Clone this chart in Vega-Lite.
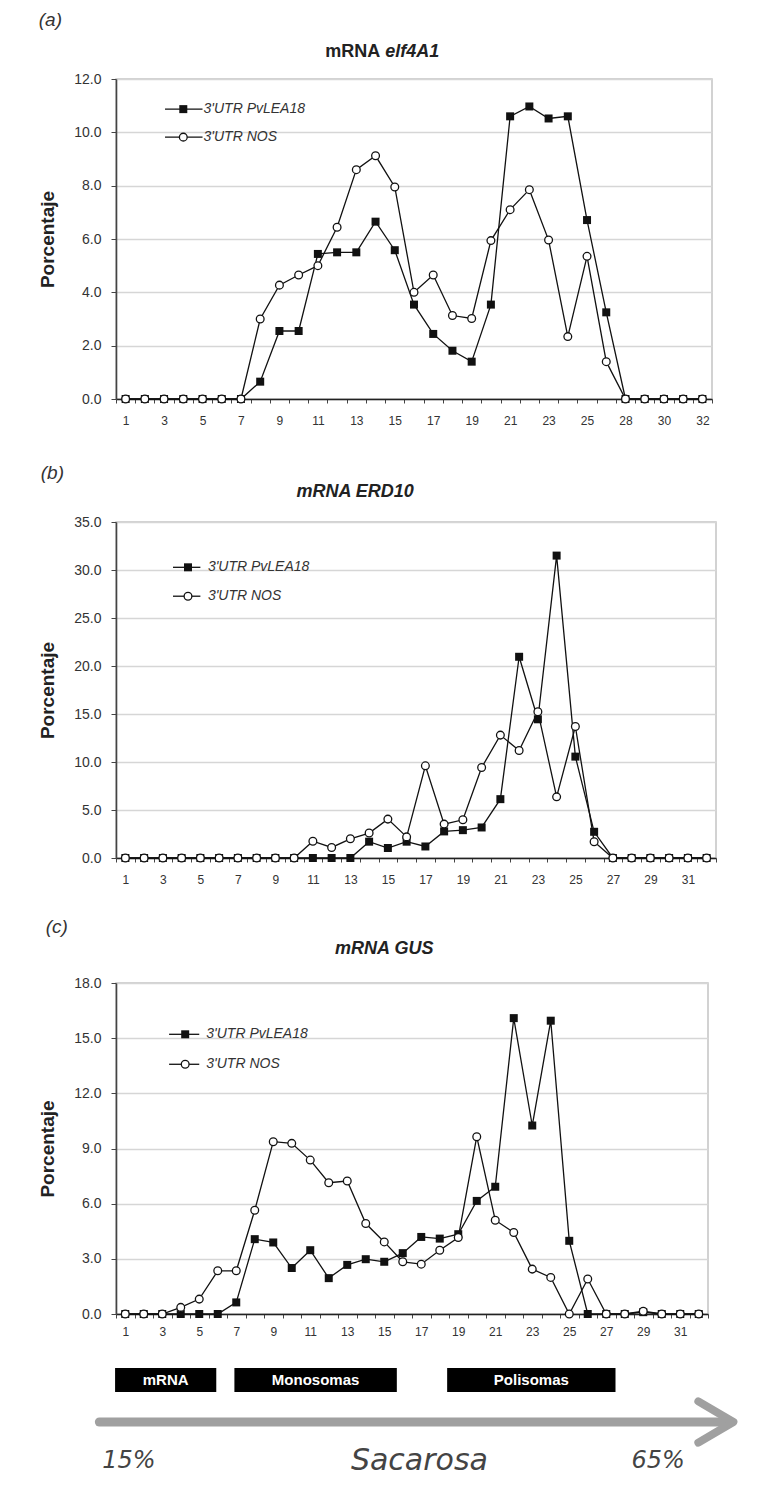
{
  "$schema": "https://vega.github.io/schema/vega-lite/v6.json",
  "background": "white",
  "padding": {"left": 38, "top": 10, "right": 5, "bottom": 5},
  "config": {
    "font": "Liberation Sans",
    "view": {"stroke": "#c4c4c4", "strokeWidth": 1.5},
    "axis": {"labelFont": "Liberation Sans", "labelColor": "#333", "domainColor": "#444", "tickColor": "#444", "domainWidth": 1.6, "gridColor": "#d6d6d6", "gridWidth": 1.6, "titleFont": "Liberation Sans"},
    "axisX": {"grid": false, "title": null, "labelAngle": 0, "tickBand": "extent", "tickSize": 4, "labelFontSize": 12, "labelOverlap": false, "domainColor": "#222"},
    "axisY": {"grid": true, "format": ".1f", "tickSize": 5, "labelPadding": 10, "labelFontSize": 14, "titleFontSize": 19, "titleFontWeight": "bold", "titleColor": "#222", "titlePadding": 16},
    "title": {"font": "Liberation Sans", "fontSize": 19, "fontStyle": "italic", "fontWeight": "normal", "anchor": "start", "frame": "bounds", "color": "#333"}
  },
  "datasets": {
    "a": [
      {"f": 1, "lea": 0, "nos": 0}, {"f": 2, "lea": 0, "nos": 0}, {"f": 3, "lea": 0, "nos": 0}, {"f": 4, "lea": 0, "nos": 0},
      {"f": 5, "lea": 0, "nos": 0}, {"f": 6, "lea": 0, "nos": 0}, {"f": 7, "lea": 0, "nos": 0},
      {"f": 8, "lea": 0.65, "nos": 3.0}, {"f": 9, "lea": 2.55, "nos": 4.27}, {"f": 10, "lea": 2.55, "nos": 4.65},
      {"f": 11, "lea": 5.44, "nos": 5.0}, {"f": 12, "lea": 5.5, "nos": 6.44}, {"f": 13, "lea": 5.5, "nos": 8.6},
      {"f": 14, "lea": 6.65, "nos": 9.12}, {"f": 15, "lea": 5.58, "nos": 7.95}, {"f": 16, "lea": 3.54, "nos": 4.0},
      {"f": 17, "lea": 2.44, "nos": 4.65}, {"f": 18, "lea": 1.81, "nos": 3.13}, {"f": 19, "lea": 1.4, "nos": 3.02},
      {"f": 20, "lea": 3.54, "nos": 5.94}, {"f": 21, "lea": 10.6, "nos": 7.1}, {"f": 22, "lea": 10.97, "nos": 7.85},
      {"f": 23, "lea": 10.52, "nos": 5.96}, {"f": 24, "lea": 10.6, "nos": 2.34}, {"f": 25, "lea": 6.71, "nos": 5.35},
      {"f": 26, "lea": 3.25, "nos": 1.4}, {"f": 28, "lea": 0, "nos": 0}, {"f": 29, "lea": 0, "nos": 0},
      {"f": 30, "lea": 0, "nos": 0}, {"f": 31, "lea": 0, "nos": 0}, {"f": 32, "lea": 0, "nos": 0}
    ],
    "b": [
      {"f": 1, "lea": 0, "nos": 0}, {"f": 2, "lea": 0, "nos": 0}, {"f": 3, "lea": 0, "nos": 0}, {"f": 4, "lea": 0, "nos": 0},
      {"f": 5, "lea": 0, "nos": 0}, {"f": 6, "lea": 0, "nos": 0}, {"f": 7, "lea": 0, "nos": 0}, {"f": 8, "lea": 0, "nos": 0},
      {"f": 9, "lea": 0, "nos": 0}, {"f": 10, "lea": 0, "nos": 0}, {"f": 11, "lea": 0, "nos": 1.75},
      {"f": 12, "lea": 0, "nos": 1.1}, {"f": 13, "lea": 0, "nos": 2.0}, {"f": 14, "lea": 1.7, "nos": 2.6},
      {"f": 15, "lea": 1.04, "nos": 4.05}, {"f": 16, "lea": 1.7, "nos": 2.2}, {"f": 17, "lea": 1.2, "nos": 9.6},
      {"f": 18, "lea": 2.77, "nos": 3.53}, {"f": 19, "lea": 2.9, "nos": 3.98}, {"f": 20, "lea": 3.18, "nos": 9.42},
      {"f": 21, "lea": 6.13, "nos": 12.8}, {"f": 22, "lea": 20.96, "nos": 11.2}, {"f": 23, "lea": 14.45, "nos": 15.24},
      {"f": 24, "lea": 31.5, "nos": 6.37}, {"f": 25, "lea": 10.56, "nos": 13.7}, {"f": 26, "lea": 2.73, "nos": 1.7},
      {"f": 27, "lea": 0, "nos": 0}, {"f": 28, "lea": 0, "nos": 0}, {"f": 29, "lea": 0, "nos": 0},
      {"f": 30, "lea": 0, "nos": 0}, {"f": 31, "lea": 0, "nos": 0}, {"f": 32, "lea": 0, "nos": 0}
    ],
    "c": [
      {"f": 1, "lea": 0, "nos": 0}, {"f": 2, "lea": 0, "nos": 0}, {"f": 3, "lea": 0, "nos": 0},
      {"f": 4, "lea": 0, "nos": 0.36}, {"f": 5, "lea": 0, "nos": 0.81}, {"f": 6, "lea": 0, "nos": 2.35},
      {"f": 7, "lea": 0.63, "nos": 2.35}, {"f": 8, "lea": 4.07, "nos": 5.64}, {"f": 9, "lea": 3.89, "nos": 9.37},
      {"f": 10, "lea": 2.5, "nos": 9.28}, {"f": 11, "lea": 3.47, "nos": 8.37}, {"f": 12, "lea": 1.95, "nos": 7.14},
      {"f": 13, "lea": 2.67, "nos": 7.23}, {"f": 14, "lea": 2.98, "nos": 4.92}, {"f": 15, "lea": 2.84, "nos": 3.92},
      {"f": 16, "lea": 3.31, "nos": 2.84}, {"f": 17, "lea": 4.19, "nos": 2.71}, {"f": 18, "lea": 4.1, "nos": 3.47},
      {"f": 19, "lea": 4.34, "nos": 4.16}, {"f": 20, "lea": 6.15, "nos": 9.64}, {"f": 21, "lea": 6.92, "nos": 5.1},
      {"f": 22, "lea": 16.09, "nos": 4.43}, {"f": 23, "lea": 10.25, "nos": 2.44}, {"f": 24, "lea": 15.95, "nos": 1.99},
      {"f": 25, "lea": 3.98, "nos": 0}, {"f": 26, "lea": 0, "nos": 1.9}, {"f": 27, "lea": 0, "nos": 0},
      {"f": 28, "lea": 0, "nos": 0}, {"f": 29, "lea": 0.1, "nos": 0.15}, {"f": 30, "lea": 0, "nos": 0},
      {"f": 31, "lea": 0, "nos": 0}, {"f": 32, "lea": 0, "nos": 0}
    ],
    "zones": [
      {"label": "mRNA", "start": 0.45, "end": 5.92},
      {"label": "Monosomas", "start": 6.9, "end": 15.68},
      {"label": "Polisomas", "start": 18.4, "end": 27.5}
    ],
    "one": [{}]
  },
  "spacing": 31,
  "vconcat": [
    {
      "spacing": 36,
      "vconcat": [
        {
          "title": {"text": "(a)", "offset": 13},
          "width": 596, "height": 320,
          "data": {"name": "a"},
          "encoding": {
            "x": {"field": "f", "type": "ordinal", "scale": {"paddingInner": 0, "paddingOuter": 0},
                  "axis": {"labelPadding": 12, "labelExpr": "(toNumber(datum.value) <= 26 ? toNumber(datum.value) % 2 === 1 : toNumber(datum.value) % 2 === 0) ? datum.label : ''"}}
          },
          "layer": [
            {"mark": {"type": "line", "color": "#111", "strokeWidth": 1.3},
             "encoding": {"y": {"field": "lea", "type": "quantitative", "scale": {"domain": [0, 12], "nice": false},
                                "axis": {"title": "Porcentaje", "values": [0, 2, 4, 6, 8, 10, 12]}}}},
            {"mark": {"type": "line", "color": "#111", "strokeWidth": 1.3},
             "encoding": {"y": {"field": "nos", "type": "quantitative"}}},
            {"mark": {"type": "point", "shape": "square", "filled": true, "color": "#111", "size": 64, "opacity": 1},
             "encoding": {"y": {"field": "lea", "type": "quantitative"}}},
            {"mark": {"type": "point", "shape": "circle", "filled": true, "fill": "white", "stroke": "#111", "strokeWidth": 1.3, "size": 60, "opacity": 1},
             "encoding": {"y": {"field": "nos", "type": "quantitative"}}},
            {"data": {"name": "one"}, "mark": {"type": "rule", "color": "#111", "strokeWidth": 1.3},
             "encoding": {"x": {"datum": 3, "bandPosition": 0.55}, "x2": {"datum": 5}, "y": {"datum": 10.87}}},
            {"data": {"name": "one"}, "mark": {"type": "rule", "color": "#111", "strokeWidth": 1.3},
             "encoding": {"x": {"datum": 3, "bandPosition": 0.55}, "x2": {"datum": 5}, "y": {"datum": 9.82}}},
            {"data": {"name": "one"}, "mark": {"type": "point", "shape": "square", "filled": true, "color": "#111", "size": 64, "opacity": 1},
             "encoding": {"x": {"datum": 4}, "y": {"datum": 10.87}}},
            {"data": {"name": "one"}, "mark": {"type": "point", "shape": "circle", "filled": true, "fill": "white", "stroke": "#111", "strokeWidth": 1.3, "size": 60, "opacity": 1},
             "encoding": {"x": {"datum": 4}, "y": {"datum": 9.82}}},
            {"data": {"name": "one"}, "mark": {"type": "text", "text": "3'UTR PvLEA18", "fontStyle": "italic", "fontSize": 14, "align": "left", "baseline": "middle", "color": "#333", "dx": 1},
             "encoding": {"x": {"datum": 5}, "y": {"datum": 10.87}}},
            {"data": {"name": "one"}, "mark": {"type": "text", "text": "3'UTR NOS", "fontStyle": "italic", "fontSize": 14, "align": "left", "baseline": "middle", "color": "#333", "dx": 1},
             "encoding": {"x": {"datum": 5}, "y": {"datum": 9.82}}},
            {"data": {"name": "one"}, "mark": {"type": "text", "text": "mRNA", "fontWeight": "bold", "fontSize": 18, "align": "right", "baseline": "middle", "color": "#222"},
             "encoding": {"x": {"datum": 14, "bandPosition": 0.75}, "y": {"datum": 13.01}}},
            {"data": {"name": "one"}, "mark": {"type": "text", "text": "elf4A1", "fontWeight": "bold", "fontStyle": "italic", "fontSize": 18, "align": "left", "baseline": "middle", "color": "#222"},
             "encoding": {"x": {"datum": 14, "bandPosition": 1}, "y": {"datum": 13.01}}}
          ]
        },
        {
          "title": {"text": "(b)", "offset": 0, "dx": 2},
          "width": 600, "height": 336,
          "data": {"name": "b"},
          "encoding": {
            "x": {"field": "f", "type": "ordinal", "scale": {"paddingInner": 0, "paddingOuter": 0},
                  "axis": {"labelPadding": 12, "labelExpr": "toNumber(datum.value) % 2 === 1 ? datum.label : ''"}}
          },
          "layer": [
            {"mark": {"type": "line", "color": "#111", "strokeWidth": 1.3},
             "encoding": {"y": {"field": "lea", "type": "quantitative", "scale": {"domain": [0, 35], "nice": false},
                                "axis": {"title": "Porcentaje", "values": [0, 5, 10, 15, 20, 25, 30, 35]}}}},
            {"mark": {"type": "line", "color": "#111", "strokeWidth": 1.3},
             "encoding": {"y": {"field": "nos", "type": "quantitative"}}},
            {"mark": {"type": "point", "shape": "square", "filled": true, "color": "#111", "size": 64, "opacity": 1},
             "encoding": {"y": {"field": "lea", "type": "quantitative"}}},
            {"mark": {"type": "point", "shape": "circle", "filled": true, "fill": "white", "stroke": "#111", "strokeWidth": 1.3, "size": 60, "opacity": 1},
             "encoding": {"y": {"field": "nos", "type": "quantitative"}}},
            {"data": {"name": "one"}, "mark": {"type": "rule", "color": "#111", "strokeWidth": 1.3},
             "encoding": {"x": {"datum": 4, "bandPosition": 0.04}, "x2": {"datum": 5}, "y": {"datum": 30.28}}},
            {"data": {"name": "one"}, "mark": {"type": "rule", "color": "#111", "strokeWidth": 1.3},
             "encoding": {"x": {"datum": 4, "bandPosition": 0.04}, "x2": {"datum": 5}, "y": {"datum": 27.27}}},
            {"data": {"name": "one"}, "mark": {"type": "point", "shape": "square", "filled": true, "color": "#111", "size": 64, "opacity": 1},
             "encoding": {"x": {"datum": 4, "bandPosition": 0.84}, "y": {"datum": 30.28}}},
            {"data": {"name": "one"}, "mark": {"type": "point", "shape": "circle", "filled": true, "fill": "white", "stroke": "#111", "strokeWidth": 1.3, "size": 60, "opacity": 1},
             "encoding": {"x": {"datum": 4, "bandPosition": 0.84}, "y": {"datum": 27.27}}},
            {"data": {"name": "one"}, "mark": {"type": "text", "text": "3'UTR PvLEA18", "fontStyle": "italic", "fontSize": 14, "align": "left", "baseline": "middle", "color": "#333"},
             "encoding": {"x": {"datum": 5, "bandPosition": 0.9}, "y": {"datum": 30.28}}},
            {"data": {"name": "one"}, "mark": {"type": "text", "text": "3'UTR NOS", "fontStyle": "italic", "fontSize": 14, "align": "left", "baseline": "middle", "color": "#333"},
             "encoding": {"x": {"datum": 5, "bandPosition": 0.9}, "y": {"datum": 27.27}}},
            {"data": {"name": "one"}, "mark": {"type": "text", "text": "mRNA ERD10", "fontWeight": "bold", "fontStyle": "italic", "fontSize": 18, "align": "center", "baseline": "middle", "color": "#222"},
             "encoding": {"x": {"datum": 13, "bandPosition": 0.75}, "y": {"datum": 38.1}}}
          ]
        }
      ]
    },
    {
      "spacing": 26,
      "vconcat": [
        {
          "title": {"text": "(c)", "offset": 3, "dx": 7},
          "width": 592, "height": 331,
          "data": {"name": "c"},
          "encoding": {
            "x": {"field": "f", "type": "ordinal", "scale": {"paddingInner": 0, "paddingOuter": 0},
                  "axis": {"labelPadding": 8, "labelExpr": "toNumber(datum.value) % 2 === 1 ? datum.label : ''"}}
          },
          "layer": [
            {"mark": {"type": "line", "color": "#111", "strokeWidth": 1.3},
             "encoding": {"y": {"field": "lea", "type": "quantitative", "scale": {"domain": [0, 18], "nice": false},
                                "axis": {"title": "Porcentaje", "values": [0, 3, 6, 9, 12, 15, 18]}}}},
            {"mark": {"type": "line", "color": "#111", "strokeWidth": 1.3},
             "encoding": {"y": {"field": "nos", "type": "quantitative"}}},
            {"mark": {"type": "point", "shape": "square", "filled": true, "color": "#111", "size": 64, "opacity": 1},
             "encoding": {"y": {"field": "lea", "type": "quantitative"}}},
            {"mark": {"type": "point", "shape": "circle", "filled": true, "fill": "white", "stroke": "#111", "strokeWidth": 1.3, "size": 60, "opacity": 1},
             "encoding": {"y": {"field": "nos", "type": "quantitative"}}},
            {"data": {"name": "one"}, "mark": {"type": "rule", "color": "#111", "strokeWidth": 1.3},
             "encoding": {"x": {"datum": 3, "bandPosition": 0.87}, "x2": {"datum": 5}, "y": {"datum": 15.21}}},
            {"data": {"name": "one"}, "mark": {"type": "rule", "color": "#111", "strokeWidth": 1.3},
             "encoding": {"x": {"datum": 3, "bandPosition": 0.87}, "x2": {"datum": 5}, "y": {"datum": 13.58}}},
            {"data": {"name": "one"}, "mark": {"type": "point", "shape": "square", "filled": true, "color": "#111", "size": 64, "opacity": 1},
             "encoding": {"x": {"datum": 4, "bandPosition": 0.74}, "y": {"datum": 15.21}}},
            {"data": {"name": "one"}, "mark": {"type": "point", "shape": "circle", "filled": true, "fill": "white", "stroke": "#111", "strokeWidth": 1.3, "size": 60, "opacity": 1},
             "encoding": {"x": {"datum": 4, "bandPosition": 0.74}, "y": {"datum": 13.58}}},
            {"data": {"name": "one"}, "mark": {"type": "text", "text": "3'UTR PvLEA18", "fontStyle": "italic", "fontSize": 14, "align": "left", "baseline": "middle", "color": "#333"},
             "encoding": {"x": {"datum": 5, "bandPosition": 0.88}, "y": {"datum": 15.21}}},
            {"data": {"name": "one"}, "mark": {"type": "text", "text": "3'UTR NOS", "fontStyle": "italic", "fontSize": 14, "align": "left", "baseline": "middle", "color": "#333"},
             "encoding": {"x": {"datum": 5, "bandPosition": 0.88}, "y": {"datum": 13.58}}},
            {"data": {"name": "one"}, "mark": {"type": "text", "text": "mRNA GUS", "fontWeight": "bold", "fontStyle": "italic", "fontSize": 18, "align": "center", "baseline": "middle", "color": "#222"},
             "encoding": {"x": {"datum": 15}, "y": {"datum": 19.85}}}
          ]
        },
        {
          "width": 592, "height": 110,
          "view": {"stroke": null},
          "layer": [
            {"data": {"name": "zones"}, "mark": {"type": "rect", "color": "#000"},
             "encoding": {
               "x": {"field": "start", "type": "quantitative", "scale": {"domain": [0.5, 32.5], "nice": false, "zero": false}, "axis": null},
               "x2": {"field": "end"},
               "y": {"datum": 10.6, "type": "quantitative", "scale": {"domain": [0, 11], "nice": false}, "axis": null},
               "y2": {"datum": 8.2}}},
            {"data": {"name": "zones"}, "transform": [{"calculate": "(datum.start + datum.end) / 2", "as": "mid"}],
             "mark": {"type": "text", "color": "white", "fontWeight": "bold", "fontSize": 15, "baseline": "middle"},
             "encoding": {"x": {"field": "mid", "type": "quantitative"}, "y": {"datum": 9.4, "type": "quantitative"}, "text": {"field": "label"}}},
            {"data": {"name": "one"}, "mark": {"type": "rule", "color": "#a0a0a0", "strokeWidth": 9, "strokeCap": "round"},
             "encoding": {"x": {"datum": -0.4, "type": "quantitative"}, "x2": {"datum": 33.4}, "y": {"datum": 5.2, "type": "quantitative"}}},
            {"data": {"name": "one"}, "mark": {"type": "point", "shape": "M-0.8,-1L0.9,0L-0.8,1", "filled": false, "stroke": "#a0a0a0", "strokeWidth": 8, "size": 1700, "opacity": 1, "strokeCap": "round", "strokeJoin": "round"},
             "encoding": {"x": {"datum": 32.87, "type": "quantitative"}, "y": {"datum": 5.2, "type": "quantitative"}}},
            {"data": {"name": "one"}, "mark": {"type": "text", "text": "15%", "font": "DejaVu Sans", "fontStyle": "italic", "fontSize": 24, "color": "#444", "baseline": "middle"},
             "encoding": {"x": {"datum": 1.2, "type": "quantitative"}, "y": {"datum": 1.3, "type": "quantitative"}}},
            {"data": {"name": "one"}, "mark": {"type": "text", "text": "Sacarosa", "font": "DejaVu Sans", "fontStyle": "italic", "fontSize": 30, "color": "#444", "baseline": "middle"},
             "encoding": {"x": {"datum": 16.9, "type": "quantitative"}, "y": {"datum": 1.3, "type": "quantitative"}}},
            {"data": {"name": "one"}, "mark": {"type": "text", "text": "65%", "font": "DejaVu Sans", "fontStyle": "italic", "fontSize": 24, "color": "#444", "baseline": "middle"},
             "encoding": {"x": {"datum": 29.8, "type": "quantitative"}, "y": {"datum": 1.3, "type": "quantitative"}}}
          ]
        }
      ]
    }
  ]
}
